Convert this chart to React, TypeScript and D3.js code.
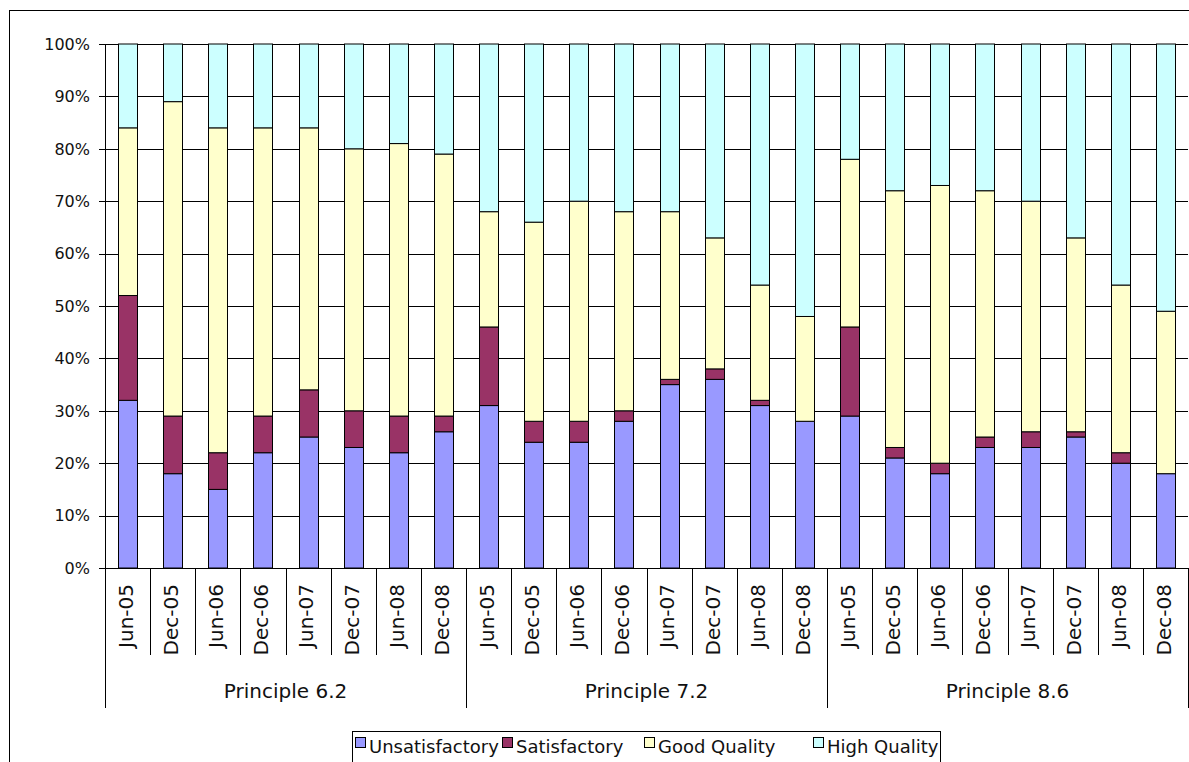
import React, { useEffect, useRef } from 'react';
import * as d3 from 'd3';

const groups = ['Principle 6.2', 'Principle 7.2', 'Principle 8.6'];
const periods = ['Jun-05', 'Dec-05', 'Jun-06', 'Dec-06', 'Jun-07', 'Dec-07', 'Jun-08', 'Dec-08'];
const yTicks = [0, 10, 20, 30, 40, 50, 60, 70, 80, 90, 100];

const seriesNames = ['Unsatisfactory', 'Satisfactory', 'Good Quality', 'High Quality'];
const seriesColors = ['#9999FF', '#993366', '#FFFFCC', '#CCFFFF'];

// percentages per bar, principle 6.2 / 7.2 / 8.6, eight periods each
const unsatisfactory = [32, 18, 15, 22, 25, 23, 22, 26, 31, 24, 24, 28, 35, 36, 31, 28, 29, 21, 18, 23, 23, 25, 20, 18];
const satisfactory = [20, 11, 7, 7, 9, 7, 7, 3, 15, 4, 4, 2, 1, 2, 1, 0, 17, 2, 2, 2, 3, 1, 2, 0];
const goodQuality = [32, 60, 62, 55, 50, 50, 52, 50, 22, 38, 42, 38, 32, 25, 22, 20, 32, 49, 53, 47, 44, 37, 32, 31];
const highQuality = [16, 11, 16, 16, 16, 20, 19, 21, 32, 34, 30, 32, 32, 37, 46, 52, 22, 28, 27, 28, 30, 37, 46, 51];

const W = 1189;
const H = 762;
const FONT = '"DejaVu Sans", sans-serif';

export default function App() {
  const svgRef = useRef<SVGSVGElement>(null);

  useEffect(() => {
    if (!svgRef.current) return;
    const svg = d3.select(svgRef.current);
    svg.selectAll('*').remove();

    const left = 105, right = 1188, top = 44, bottom = 568;

    const rows = unsatisfactory.map((u, i) => ({
      idx: i,
      Unsatisfactory: u,
      Satisfactory: satisfactory[i],
      'Good Quality': goodQuality[i],
      'High Quality': highQuality[i],
    }));

    const x = d3.scaleBand<number>()
      .domain(rows.map(d => d.idx))
      .range([left, right])
      .paddingInner(0.58)
      .paddingOuter(0.29);
    const step = x.step();

    const y = d3.scaleLinear().domain([0, 100]).range([bottom, top]);

    // outer frame (runs off the right/bottom edge)
    svg.append('rect')
      .attr('x', 9.5).attr('y', 10.5)
      .attr('width', 1300).attr('height', 900)
      .attr('fill', 'white').attr('stroke', '#000').attr('stroke-width', 1);

    // gridlines
    svg.append('g').selectAll('line')
      .data(yTicks)
      .enter().append('line')
      .attr('x1', left).attr('x2', right)
      .attr('y1', d => Math.round(y(d)) + 0.5)
      .attr('y2', d => Math.round(y(d)) + 0.5)
      .attr('stroke', '#000').attr('stroke-width', 1);

    // y axis
    const yAxis = svg.append('g');
    yAxis.append('line')
      .attr('x1', left + 0.5).attr('x2', left + 0.5)
      .attr('y1', top).attr('y2', bottom)
      .attr('stroke', '#000');
    yAxis.selectAll('line.tick')
      .data(yTicks)
      .enter().append('line')
      .attr('class', 'tick')
      .attr('x1', left - 6).attr('x2', left)
      .attr('y1', d => Math.round(y(d)) + 0.5)
      .attr('y2', d => Math.round(y(d)) + 0.5)
      .attr('stroke', '#000');
    yAxis.selectAll('text')
      .data(yTicks)
      .enter().append('text')
      .attr('x', 90)
      .attr('y', d => y(d))
      .attr('dy', '0.36em')
      .attr('text-anchor', 'end')
      .attr('font-family', FONT)
      .attr('font-size', 16)
      .attr('fill', '#111')
      .text(d => `${d}%`);

    // stacked bars
    const stack = d3.stack<any>().keys(seriesNames);
    const layers = stack(rows);
    const color = d3.scaleOrdinal<string, string>().domain(seriesNames).range(seriesColors);

    svg.append('g').selectAll('g')
      .data(layers)
      .enter().append('g')
      .attr('fill', d => color(d.key))
      .selectAll('rect')
      .data(d => d.filter(s => s[1] - s[0] > 0))
      .enter().append('rect')
      .attr('x', (d: any) => Math.round(x(d.data.idx)!) + 0.5)
      .attr('y', d => y(d[1]))
      .attr('width', Math.round(x.bandwidth()))
      .attr('height', d => y(d[0]) - y(d[1]))
      .attr('stroke', '#000')
      .attr('stroke-width', 1);

    // x axis baseline
    svg.append('line')
      .attr('x1', left).attr('x2', right)
      .attr('y1', bottom + 0.5).attr('y2', bottom + 0.5)
      .attr('stroke', '#000');

    // category separators and group separators
    const boundaries = d3.range(rows.length + 1);
    svg.append('g').selectAll('line')
      .data(boundaries)
      .enter().append('line')
      .attr('x1', i => Math.round(left + i * step) + 0.5)
      .attr('x2', i => Math.round(left + i * step) + 0.5)
      .attr('y1', bottom)
      .attr('y2', i => (i % periods.length === 0 ? 708 : 655))
      .attr('stroke', '#000');

    // category labels
    svg.append('g').selectAll('text')
      .data(rows)
      .enter().append('text')
      .attr('transform', d => `translate(${x(d.idx)! + x.bandwidth() / 2},584) rotate(-90)`)
      .attr('dy', '0.27em')
      .attr('text-anchor', 'end')
      .attr('font-family', FONT)
      .attr('font-size', 20)
      .attr('fill', '#111')
      .text(d => periods[d.idx % periods.length]);

    // group labels
    svg.append('g').selectAll('text')
      .data(groups)
      .enter().append('text')
      .attr('x', (d, i) => left + (i + 0.5) * periods.length * step)
      .attr('y', 698)
      .attr('text-anchor', 'middle')
      .attr('font-family', FONT)
      .attr('font-size', 20)
      .attr('fill', '#111')
      .text(d => d);

    // legend box with slots matching the original layout
    const legendX = 352, legendW = 588;
    const slotStart = [3, 150, 292, 461];
    const legend = svg.append('g').attr('transform', `translate(${legendX},0)`);
    legend.append('rect')
      .attr('x', 0.5).attr('y', 731.5)
      .attr('width', legendW).attr('height', 40)
      .attr('fill', 'white').attr('stroke', '#000');
    const items = legend.selectAll('g.item')
      .data(seriesNames)
      .enter().append('g')
      .attr('class', 'item')
      .attr('transform', (d, i) => `translate(${slotStart[i]},0)`);
    items.append('rect')
      .attr('x', 0.5).attr('y', 737.5)
      .attr('width', 10).attr('height', 10)
      .attr('fill', d => color(d)).attr('stroke', '#000');
    items.append('text')
      .attr('x', 14).attr('y', 753)
      .attr('font-family', FONT)
      .attr('font-size', 18)
      .attr('fill', '#111')
      .text(d => d);
  }, []);

  return (
    <svg
      ref={svgRef}
      width={W}
      height={H}
      style={{ position: 'absolute', left: 0, top: 0, background: 'white' }}
    />
  );
}
